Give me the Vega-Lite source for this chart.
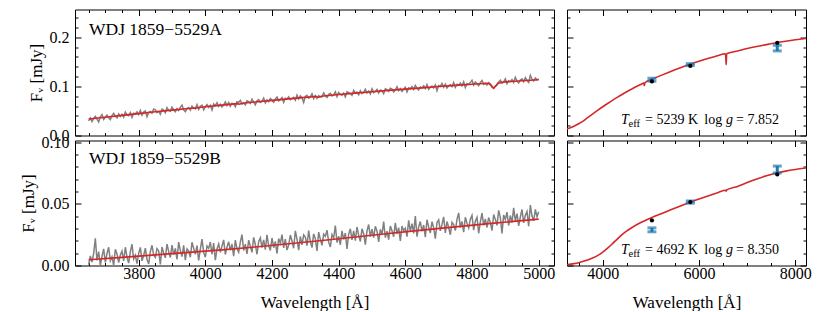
{
"$schema": "https://vega.github.io/schema/vega-lite/v6.json",
"padding": {"left": 19, "top": 8.5, "right": 0, "bottom": 0},
"config": {
  "font": "Liberation Serif",
  "view": {"stroke": null},
  "style": {"guide-label": {"font": "Liberation Serif"}, "guide-title": {"font": "Liberation Serif"}},
  "axis": {"grid": false, "domainColor": "#000", "domainWidth": 1, "tickColor": "#000", "tickWidth": 1,
           "labelColor": "#000", "labelFontSize": 16, "labelFont": "Liberation Serif",
           "titleFont": "Liberation Serif", "titleFontSize": 17, "titleFontWeight": "normal", "titleColor": "#000",
           "labelOverlap": false, "labelFlush": false}
},
"datasets": {
"specA": [
{"w":3650,"f":0.0295},{"w":3655,"f":0.0359},{"w":3660,"f":0.0283},{"w":3665,"f":0.0346},{"w":3670,"f":0.0390},{"w":3675,"f":0.0334},{"w":3680,"f":0.0278},{"w":3685,"f":0.0381},{"w":3690,"f":0.0425},{"w":3695,"f":0.0329},
{"w":3700,"f":0.0373},{"w":3705,"f":0.0416},{"w":3710,"f":0.0360},{"w":3715,"f":0.0324},{"w":3720,"f":0.0407},{"w":3725,"f":0.0451},{"w":3730,"f":0.0395},{"w":3735,"f":0.0359},{"w":3740,"f":0.0442},{"w":3745,"f":0.0386},
{"w":3750,"f":0.0430},{"w":3755,"f":0.0373},{"w":3760,"f":0.0477},{"w":3765,"f":0.0421},{"w":3770,"f":0.0404},{"w":3775,"f":0.0468},{"w":3780,"f":0.0371},{"w":3785,"f":0.0455},{"w":3790,"f":0.0439},{"w":3795,"f":0.0482},
{"w":3800,"f":0.0426},{"w":3805,"f":0.0510},{"w":3810,"f":0.0413},{"w":3815,"f":0.0477},{"w":3820,"f":0.0500},{"w":3825,"f":0.0384},{"w":3830,"f":0.0467},{"w":3835,"f":0.0491},{"w":3840,"f":0.0455},{"w":3845,"f":0.0538},
{"w":3850,"f":0.0522},{"w":3855,"f":0.0465},{"w":3860,"f":0.0489},{"w":3865,"f":0.0432},{"w":3870,"f":0.0536},{"w":3875,"f":0.0519},{"w":3880,"f":0.0463},{"w":3885,"f":0.0566},{"w":3890,"f":0.0510},{"w":3895,"f":0.0493},
{"w":3900,"f":0.0577},{"w":3905,"f":0.0520},{"w":3910,"f":0.0484},{"w":3915,"f":0.0547},{"w":3920,"f":0.0511},{"w":3925,"f":0.0574},{"w":3930,"f":0.0618},{"w":3935,"f":0.0521},{"w":3940,"f":0.0485},{"w":3945,"f":0.0548},
{"w":3950,"f":0.0571},{"w":3955,"f":0.0515},{"w":3960,"f":0.0598},{"w":3965,"f":0.0562},{"w":3970,"f":0.0545},{"w":3975,"f":0.0628},{"w":3980,"f":0.0532},{"w":3985,"f":0.0595},{"w":3990,"f":0.0619},{"w":3995,"f":0.0522},
{"w":4000,"f":0.0585},{"w":4005,"f":0.0629},{"w":4010,"f":0.0572},{"w":4015,"f":0.0615},{"w":4020,"f":0.0519},{"w":4025,"f":0.0642},{"w":4030,"f":0.0605},{"w":4035,"f":0.0669},{"w":4040,"f":0.0592},{"w":4045,"f":0.0635},
{"w":4050,"f":0.0579},{"w":4055,"f":0.0622},{"w":4060,"f":0.0685},{"w":4065,"f":0.0608},{"w":4070,"f":0.0672},{"w":4075,"f":0.0595},{"w":4080,"f":0.0658},{"w":4085,"f":0.0642},{"w":4090,"f":0.0585},{"w":4095,"f":0.0688},
{"w":4100,"f":0.0671},{"w":4105,"f":0.0715},{"w":4110,"f":0.0638},{"w":4115,"f":0.0661},{"w":4120,"f":0.0624},{"w":4125,"f":0.0707},{"w":4130,"f":0.0691},{"w":4135,"f":0.0654},{"w":4140,"f":0.0737},{"w":4145,"f":0.0680},
{"w":4150,"f":0.0623},{"w":4155,"f":0.0707},{"w":4160,"f":0.0730},{"w":4165,"f":0.0673},{"w":4170,"f":0.0696},{"w":4175,"f":0.0759},{"w":4180,"f":0.0662},{"w":4185,"f":0.0725},{"w":4190,"f":0.0689},{"w":4195,"f":0.0752},
{"w":4200,"f":0.0715},{"w":4205,"f":0.0678},{"w":4210,"f":0.0741},{"w":4215,"f":0.0784},{"w":4220,"f":0.0707},{"w":4225,"f":0.0730},{"w":4230,"f":0.0773},{"w":4235,"f":0.0676},{"w":4240,"f":0.0759},{"w":4245,"f":0.0743},
{"w":4250,"f":0.0786},{"w":4255,"f":0.0729},{"w":4260,"f":0.0752},{"w":4265,"f":0.0775},{"w":4270,"f":0.0718},{"w":4275,"f":0.0821},{"w":4280,"f":0.0744},{"w":4285,"f":0.0807},{"w":4290,"f":0.0770},{"w":4295,"f":0.0673},
{"w":4300,"f":0.0796},{"w":4305,"f":0.0819},{"w":4310,"f":0.0762},{"w":4315,"f":0.0785},{"w":4320,"f":0.0848},{"w":4325,"f":0.0751},{"w":4330,"f":0.0814},{"w":4335,"f":0.0757},{"w":4340,"f":0.0810},{"w":4345,"f":0.0783},
{"w":4350,"f":0.0786},{"w":4355,"f":0.0868},{"w":4360,"f":0.0811},{"w":4365,"f":0.0774},{"w":4370,"f":0.0837},{"w":4375,"f":0.0860},{"w":4380,"f":0.0803},{"w":4385,"f":0.0826},{"w":4390,"f":0.0889},{"w":4395,"f":0.0792},
{"w":4400,"f":0.0875},{"w":4405,"f":0.0837},{"w":4410,"f":0.0820},{"w":4415,"f":0.0863},{"w":4420,"f":0.0786},{"w":4425,"f":0.0889},{"w":4430,"f":0.0872},{"w":4435,"f":0.0854},{"w":4440,"f":0.0817},{"w":4445,"f":0.0920},
{"w":4450,"f":0.0863},{"w":4455,"f":0.0886},{"w":4460,"f":0.0829},{"w":4465,"f":0.0911},{"w":4470,"f":0.0854},{"w":4475,"f":0.0877},{"w":4480,"f":0.0940},{"w":4485,"f":0.0862},{"w":4490,"f":0.0905},{"w":4495,"f":0.0848},
{"w":4500,"f":0.0951},{"w":4505,"f":0.0873},{"w":4510,"f":0.0896},{"w":4515,"f":0.0939},{"w":4520,"f":0.0862},{"w":4525,"f":0.0924},{"w":4530,"f":0.0907},{"w":4535,"f":0.0850},{"w":4540,"f":0.0952},{"w":4545,"f":0.0935},
{"w":4550,"f":0.0898},{"w":4555,"f":0.0961},{"w":4560,"f":0.0943},{"w":4565,"f":0.0886},{"w":4570,"f":0.0928},{"w":4575,"f":0.0991},{"w":4580,"f":0.0914},{"w":4585,"f":0.0956},{"w":4590,"f":0.0899},{"w":4595,"f":0.0942},
{"w":4600,"f":0.0984},{"w":4605,"f":0.0887},{"w":4610,"f":0.0970},{"w":4615,"f":0.0952},{"w":4620,"f":0.0995},{"w":4625,"f":0.0937},{"w":4630,"f":0.1020},{"w":4635,"f":0.0963},{"w":4640,"f":0.0925},{"w":4645,"f":0.0988},
{"w":4650,"f":0.0970},{"w":4655,"f":0.1013},{"w":4660,"f":0.0955},{"w":4665,"f":0.1038},{"w":4670,"f":0.0940},{"w":4675,"f":0.0983},{"w":4680,"f":0.1006},{"w":4685,"f":0.0968},{"w":4690,"f":0.1031},{"w":4695,"f":0.0913},
{"w":4700,"f":0.1016},{"w":4705,"f":0.0998},{"w":4710,"f":0.1061},{"w":4715,"f":0.0983},{"w":4720,"f":0.1046},{"w":4725,"f":0.0968},{"w":4730,"f":0.1010},{"w":4735,"f":0.1033},{"w":4740,"f":0.0995},{"w":4745,"f":0.1078},
{"w":4750,"f":0.0980},{"w":4755,"f":0.1043},{"w":4760,"f":0.1025},{"w":4765,"f":0.1068},{"w":4770,"f":0.1010},{"w":4775,"f":0.1092},{"w":4780,"f":0.0975},{"w":4785,"f":0.1057},{"w":4790,"f":0.1040},{"w":4795,"f":0.1082},
{"w":4800,"f":0.1124},{"w":4805,"f":0.1027},{"w":4810,"f":0.1089},{"w":4815,"f":0.1052},{"w":4820,"f":0.1014},{"w":4825,"f":0.1076},{"w":4830,"f":0.1119},{"w":4835,"f":0.1041},{"w":4840,"f":0.1063},{"w":4845,"f":0.1026},
{"w":4850,"f":0.1078},{"w":4855,"f":0.1050},{"w":4860,"f":0.0985},{"w":4865,"f":0.0965},{"w":4870,"f":0.1007},{"w":4875,"f":0.1025},{"w":4880,"f":0.1092},{"w":4885,"f":0.1124},{"w":4890,"f":0.1066},{"w":4895,"f":0.1089},
{"w":4900,"f":0.1151},{"w":4905,"f":0.1053},{"w":4910,"f":0.1115},{"w":4915,"f":0.1098},{"w":4920,"f":0.1140},{"w":4925,"f":0.1082},{"w":4930,"f":0.1184},{"w":4935,"f":0.1106},{"w":4940,"f":0.1069},{"w":4945,"f":0.1131},
{"w":4950,"f":0.1153},{"w":4955,"f":0.1095},{"w":4960,"f":0.1177},{"w":4965,"f":0.1120},{"w":4970,"f":0.1082},{"w":4975,"f":0.1224},{"w":4980,"f":0.1146},{"w":4985,"f":0.1108},{"w":4990,"f":0.1170},{"w":4995,"f":0.1133},
{"w":5000,"f":0.1155}
],
"specB": [
{"w":3650,"f":0.0006},{"w":3655,"f":0.0077},{"w":3660,"f":0.0028},{"w":3665,"f":0.0099},{"w":3670,"f":0.0220},{"w":3675,"f":0.0041},{"w":3680,"f":0.0112},{"w":3685,"f":0.0003},{"w":3690,"f":0.0074},{"w":3695,"f":0.0135},
{"w":3700,"f":0.0026},{"w":3705,"f":0.0097},{"w":3710,"f":0.0148},{"w":3715,"f":0.0039},{"w":3720,"f":0.0070},{"w":3725,"f":0.0001},{"w":3730,"f":0.0132},{"w":3735,"f":0.0093},{"w":3740,"f":0.0024},{"w":3745,"f":0.0085},
{"w":3750,"f":0.0116},{"w":3755,"f":0.0037},{"w":3760,"f":0.0148},{"w":3765,"f":0.0069},{"w":3770,"f":0.0020},{"w":3775,"f":0.0111},{"w":3780,"f":0.0172},{"w":3785,"f":0.0053},{"w":3790,"f":0.0084},{"w":3795,"f":0.0015},
{"w":3800,"f":0.0096},{"w":3805,"f":0.0147},{"w":3810,"f":0.0038},{"w":3815,"f":0.0080},{"w":3820,"f":0.0140},{"w":3825,"f":0.0051},{"w":3830,"f":0.0012},{"w":3835,"f":0.0113},{"w":3840,"f":0.0164},{"w":3845,"f":0.0085},
{"w":3850,"f":0.0066},{"w":3855,"f":0.0137},{"w":3860,"f":0.0118},{"w":3865,"f":0.0009},{"w":3870,"f":0.0150},{"w":3875,"f":0.0101},{"w":3880,"f":0.0062},{"w":3885,"f":0.0173},{"w":3890,"f":0.0114},{"w":3895,"f":0.0065},
{"w":3900,"f":0.0166},{"w":3905,"f":0.0087},{"w":3910,"f":0.0138},{"w":3915,"f":0.0049},{"w":3920,"f":0.0190},{"w":3925,"f":0.0121},{"w":3930,"f":0.0072},{"w":3935,"f":0.0163},{"w":3940,"f":0.0044},{"w":3945,"f":0.0135},
{"w":3950,"f":0.0116},{"w":3955,"f":0.0067},{"w":3960,"f":0.0188},{"w":3965,"f":0.0139},{"w":3970,"f":0.0090},{"w":3975,"f":0.0161},{"w":3980,"f":0.0042},{"w":3985,"f":0.0133},{"w":3990,"f":0.0214},{"w":3995,"f":0.0106},
{"w":4000,"f":0.0067},{"w":4005,"f":0.0158},{"w":4010,"f":0.0139},{"w":4015,"f":0.0190},{"w":4020,"f":0.0091},{"w":4025,"f":0.0182},{"w":4030,"f":0.0043},{"w":4035,"f":0.0134},{"w":4040,"f":0.0175},{"w":4045,"f":0.0106},
{"w":4050,"f":0.0157},{"w":4055,"f":0.0208},{"w":4060,"f":0.0089},{"w":4065,"f":0.0150},{"w":4070,"f":0.0192},{"w":4075,"f":0.0123},{"w":4080,"f":0.0174},{"w":4085,"f":0.0075},{"w":4090,"f":0.0206},{"w":4095,"f":0.0137},
{"w":4100,"f":0.0108},{"w":4105,"f":0.0189},{"w":4110,"f":0.0250},{"w":4115,"f":0.0122},{"w":4120,"f":0.0173},{"w":4125,"f":0.0094},{"w":4130,"f":0.0205},{"w":4135,"f":0.0156},{"w":4140,"f":0.0107},{"w":4145,"f":0.0228},
{"w":4150,"f":0.0170},{"w":4155,"f":0.0091},{"w":4160,"f":0.0193},{"w":4165,"f":0.0224},{"w":4170,"f":0.0145},{"w":4175,"f":0.0207},{"w":4180,"f":0.0128},{"w":4185,"f":0.0249},{"w":4190,"f":0.0160},{"w":4195,"f":0.0122},
{"w":4200,"f":0.0223},{"w":4205,"f":0.0144},{"w":4210,"f":0.0196},{"w":4215,"f":0.0097},{"w":4220,"f":0.0218},{"w":4225,"f":0.0180},{"w":4230,"f":0.0251},{"w":4235,"f":0.0142},{"w":4240,"f":0.0214},{"w":4245,"f":0.0125},
{"w":4250,"f":0.0166},{"w":4255,"f":0.0247},{"w":4260,"f":0.0199},{"w":4265,"f":0.0140},{"w":4270,"f":0.0281},{"w":4275,"f":0.0213},{"w":4280,"f":0.0124},{"w":4285,"f":0.0235},{"w":4290,"f":0.0167},{"w":4295,"f":0.0248},
{"w":4300,"f":0.0230},{"w":4305,"f":0.0161},{"w":4310,"f":0.0282},{"w":4315,"f":0.0194},{"w":4320,"f":0.0145},{"w":4325,"f":0.0256},{"w":4330,"f":0.0218},{"w":4335,"f":0.0119},{"w":4340,"f":0.0270},{"w":4345,"f":0.0212},
{"w":4350,"f":0.0163},{"w":4355,"f":0.0254},{"w":4360,"f":0.0236},{"w":4365,"f":0.0287},{"w":4370,"f":0.0189},{"w":4375,"f":0.0150},{"w":4380,"f":0.0251},{"w":4385,"f":0.0223},{"w":4390,"f":0.0324},{"w":4395,"f":0.0186},
{"w":4400,"f":0.0237},{"w":4405,"f":0.0168},{"w":4410,"f":0.0280},{"w":4415,"f":0.0211},{"w":4420,"f":0.0263},{"w":4425,"f":0.0134},{"w":4430,"f":0.0255},{"w":4435,"f":0.0297},{"w":4440,"f":0.0208},{"w":4445,"f":0.0280},
{"w":4450,"f":0.0201},{"w":4455,"f":0.0312},{"w":4460,"f":0.0244},{"w":4465,"f":0.0195},{"w":4470,"f":0.0297},{"w":4475,"f":0.0258},{"w":4480,"f":0.0169},{"w":4485,"f":0.0281},{"w":4490,"f":0.0332},{"w":4495,"f":0.0234},
{"w":4500,"f":0.0295},{"w":4505,"f":0.0226},{"w":4510,"f":0.0318},{"w":4515,"f":0.0279},{"w":4520,"f":0.0191},{"w":4525,"f":0.0292},{"w":4530,"f":0.0253},{"w":4535,"f":0.0355},{"w":4540,"f":0.0226},{"w":4545,"f":0.0278},
{"w":4550,"f":0.0209},{"w":4555,"f":0.0320},{"w":4560,"f":0.0282},{"w":4565,"f":0.0233},{"w":4570,"f":0.0345},{"w":4575,"f":0.0256},{"w":4580,"f":0.0307},{"w":4585,"f":0.0199},{"w":4590,"f":0.0320},{"w":4595,"f":0.0282},
{"w":4600,"f":0.0303},{"w":4605,"f":0.0234},{"w":4610,"f":0.0366},{"w":4615,"f":0.0277},{"w":4620,"f":0.0339},{"w":4625,"f":0.0260},{"w":4630,"f":0.0401},{"w":4635,"f":0.0233},{"w":4640,"f":0.0314},{"w":4645,"f":0.0356},
{"w":4650,"f":0.0277},{"w":4655,"f":0.0328},{"w":4660,"f":0.0230},{"w":4665,"f":0.0371},{"w":4670,"f":0.0312},{"w":4675,"f":0.0264},{"w":4680,"f":0.0355},{"w":4685,"f":0.0306},{"w":4690,"f":0.0217},{"w":4695,"f":0.0349},
{"w":4700,"f":0.0370},{"w":4705,"f":0.0281},{"w":4710,"f":0.0333},{"w":4715,"f":0.0394},{"w":4720,"f":0.0265},{"w":4725,"f":0.0356},{"w":4730,"f":0.0308},{"w":4735,"f":0.0249},{"w":4740,"f":0.0350},{"w":4745,"f":0.0332},
{"w":4750,"f":0.0283},{"w":4755,"f":0.0374},{"w":4760,"f":0.0426},{"w":4765,"f":0.0307},{"w":4770,"f":0.0358},{"w":4775,"f":0.0270},{"w":4780,"f":0.0391},{"w":4785,"f":0.0342},{"w":4790,"f":0.0304},{"w":4795,"f":0.0375},
{"w":4800,"f":0.0406},{"w":4805,"f":0.0287},{"w":4810,"f":0.0359},{"w":4815,"f":0.0390},{"w":4820,"f":0.0261},{"w":4825,"f":0.0353},{"w":4830,"f":0.0424},{"w":4835,"f":0.0325},{"w":4840,"f":0.0377},{"w":4845,"f":0.0308},
{"w":4850,"f":0.0389},{"w":4855,"f":0.0350},{"w":4860,"f":0.0282},{"w":4865,"f":0.0413},{"w":4870,"f":0.0374},{"w":4875,"f":0.0325},{"w":4880,"f":0.0447},{"w":4885,"f":0.0388},{"w":4890,"f":0.0259},{"w":4895,"f":0.0410},
{"w":4900,"f":0.0372},{"w":4905,"f":0.0433},{"w":4910,"f":0.0324},{"w":4915,"f":0.0405},{"w":4920,"f":0.0347},{"w":4925,"f":0.0468},{"w":4930,"f":0.0359},{"w":4935,"f":0.0420},{"w":4940,"f":0.0322},{"w":4945,"f":0.0393},
{"w":4950,"f":0.0454},{"w":4955,"f":0.0345},{"w":4960,"f":0.0406},{"w":4965,"f":0.0438},{"w":4970,"f":0.0319},{"w":4975,"f":0.0490},{"w":4980,"f":0.0401},{"w":4985,"f":0.0362},{"w":4990,"f":0.0454},{"w":4995,"f":0.0395},
{"w":5000,"f":0.0436}
],
"modA": [
{"w":3650,"f":0.0335},{"w":3700,"f":0.0373},{"w":3750,"f":0.0410},{"w":3800,"f":0.0446},{"w":3850,"f":0.0482},{"w":3900,"f":0.0517},{"w":3950,"f":0.0551},{"w":3965,"f":0.0561},{"w":3970,"f":0.0553},{"w":3975,"f":0.0565},
{"w":4000,"f":0.0585},{"w":4050,"f":0.0619},{"w":4095,"f":0.0648},{"w":4102,"f":0.0637},{"w":4110,"f":0.0657},{"w":4150,"f":0.0683},{"w":4200,"f":0.0715},{"w":4250,"f":0.0746},{"w":4300,"f":0.0776},{"w":4332,"f":0.0794},
{"w":4340,"f":0.0780},{"w":4348,"f":0.0799},{"w":4400,"f":0.0835},{"w":4450,"f":0.0863},{"w":4500,"f":0.0891},{"w":4550,"f":0.0918},{"w":4600,"f":0.0944},{"w":4650,"f":0.0970},{"w":4700,"f":0.0996},{"w":4750,"f":0.1020},
{"w":4800,"f":0.1044},{"w":4845,"f":0.1065},{"w":4852,"f":0.1052},{"w":4858,"f":0.1015},{"w":4865,"f":0.0960},{"w":4871,"f":0.1010},{"w":4877,"f":0.1058},{"w":4890,"f":0.1084},{"w":4900,"f":0.1091},{"w":4950,"f":0.1113},
{"w":5000,"f":0.1135}
],
"modB": [
{"w":3650,"f":0.0046},{"w":3750,"f":0.0066},{"w":3850,"f":0.0086},{"w":3950,"f":0.0106},{"w":4050,"f":0.0127},{"w":4150,"f":0.0150},{"w":4250,"f":0.0176},{"w":4350,"f":0.0203},
{"w":4450,"f":0.0231},{"w":4550,"f":0.0259},{"w":4650,"f":0.0287},{"w":4750,"f":0.0313},{"w":4850,"f":0.0339},{"w":4950,"f":0.0364},{"w":5000,"f":0.0376}
],
"sedA": [
{"w":3250,"f":0.0133},{"w":3300,"f":0.0150},{"w":3400,"f":0.0190},{"w":3500,"f":0.0240},{"w":3600,"f":0.0299},{"w":3700,"f":0.0373},{"w":3800,"f":0.0446},{"w":3900,"f":0.0517},
{"w":4000,"f":0.0585},{"w":4100,"f":0.0651},{"w":4200,"f":0.0715},{"w":4300,"f":0.0776},{"w":4400,"f":0.0835},{"w":4500,"f":0.0891},{"w":4600,"f":0.0944},{"w":4700,"f":0.0996},
{"w":4800,"f":0.1044},{"w":4850,"f":0.1066},{"w":4857,"f":0.1045},{"w":4863,"f":0.1018},{"w":4869,"f":0.1048},{"w":4880,"f":0.1075},{"w":4900,"f":0.1091},{"w":5000,"f":0.1135},
{"w":5200,"f":0.1219},{"w":5400,"f":0.1299},{"w":5600,"f":0.1375},{"w":5800,"f":0.1447},{"w":6000,"f":0.1513},{"w":6200,"f":0.1573},{"w":6400,"f":0.1628},{"w":6540,"f":0.1664},
{"w":6553,"f":0.1640},{"w":6563,"f":0.1440},{"w":6573,"f":0.1648},{"w":6586,"f":0.1672},{"w":6600,"f":0.1676},{"w":6800,"f":0.1722},{"w":7000,"f":0.1770},{"w":7200,"f":0.1812},
{"w":7400,"f":0.1850},{"w":7600,"f":0.1888},{"w":7800,"f":0.1920},{"w":8000,"f":0.1948},{"w":8230,"f":0.1975}
],
"sedB": [
{"w":3250,"f":0.0006},{"w":3300,"f":0.0009},{"w":3400,"f":0.0015},{"w":3500,"f":0.0023},{"w":3600,"f":0.0034},{"w":3700,"f":0.0047},{"w":3800,"f":0.0062},{"w":3900,"f":0.0082},
{"w":4000,"f":0.0108},{"w":4100,"f":0.0140},{"w":4200,"f":0.0176},{"w":4300,"f":0.0214},{"w":4400,"f":0.0250},{"w":4500,"f":0.0280},{"w":4600,"f":0.0306},{"w":4800,"f":0.0350},
{"w":5000,"f":0.0386},{"w":5200,"f":0.0418},{"w":5400,"f":0.0449},{"w":5600,"f":0.0480},{"w":5800,"f":0.0511},{"w":6000,"f":0.0539},{"w":6200,"f":0.0566},{"w":6400,"f":0.0592},
{"w":6550,"f":0.0610},{"w":6563,"f":0.0603},{"w":6576,"f":0.0613},{"w":6800,"f":0.0641},{"w":7000,"f":0.0672},{"w":7200,"f":0.0701},{"w":7400,"f":0.0727},{"w":7600,"f":0.0748},
{"w":7800,"f":0.0765},{"w":8000,"f":0.0778},{"w":8230,"f":0.0790}
],
"photA": [
{"w":5021,"obs":0.1136,"lo":0.1106,"hi":0.1166,"syn":0.1100},
{"w":5819,"obs":0.1443,"lo":0.1423,"hi":0.1463,"syn":0.1415},
{"w":7625,"obs":0.1780,"lo":0.1722,"hi":0.1837,"syn":0.1884}
],
"photB": [
{"w":5021,"obs":0.0289,"lo":0.0273,"hi":0.0305,"syn":0.0365},
{"w":5819,"obs":0.0514,"lo":0.0505,"hi":0.0523,"syn":0.0514},
{"w":7625,"obs":0.0778,"lo":0.0750,"hi":0.0806,"syn":0.0738}
]
},
"columns": 2,
"spacing": {"row": 5, "column": 13},
"bounds": "flush",
"align": "each",
"concat": [
{
 "width": 479, "height": 126,
 "resolve": {"axis": {"x": "independent", "y": "independent"}},
 "layer": [
  {"data": {"name": "specA"}, "mark": {"type": "line", "color": "#808080", "strokeWidth": 1.5, "clip": true},
   "encoding": {
    "x": {"field": "w", "type": "quantitative", "scale": {"domain": [3609, 5046], "nice": false, "zero": false},
          "axis": {"orient": "bottom", "values": [3650,3700,3750,3800,3850,3900,3950,4000,4050,4100,4150,4200,4250,4300,4350,4400,4450,4500,4550,4600,4650,4700,4750,4800,4850,4900,4950,5000],
                   "labels": false, "title": null, "tickSize": {"condition": {"test": "datum.value % 200 === 0", "value": -6}, "value": -3}}},
    "y": {"field": "f", "type": "quantitative", "scale": {"domain": [0, 0.2565], "nice": false, "zero": false},
          "axis": {"orient": "left", "values": [0,0.02,0.04,0.06,0.08,0.1,0.12,0.14,0.16,0.18,0.2,0.22,0.24],
                   "tickSize": {"condition": {"test": "abs(datum.value*10-round(datum.value*10))<1e-6", "value": -6}, "value": -3},
                   "labelExpr": "abs(datum.value*10-round(datum.value*10))<1e-6 ? format(datum.value,'.1f') : ''",
                   "labelFont": "Liberation Serif", "titleFont": "Liberation Serif",
                   "labelPadding": 12, "title": "Fᵥ [mJy]", "titlePadding": 4}}}},
  {"data": {"name": "modA"}, "mark": {"type": "line", "color": "#d62728", "strokeWidth": 1.6, "clip": true},
   "encoding": {
    "x": {"field": "w", "type": "quantitative", "scale": {"domain": [3609, 5046], "nice": false, "zero": false},
          "axis": {"orient": "top", "values": [3650,3700,3750,3800,3850,3900,3950,4000,4050,4100,4150,4200,4250,4300,4350,4400,4450,4500,4550,4600,4650,4700,4750,4800,4850,4900,4950,5000],
                   "labels": false, "title": null, "tickSize": {"condition": {"test": "datum.value % 200 === 0", "value": -6}, "value": -3}}},
    "y": {"field": "f", "type": "quantitative", "scale": {"domain": [0, 0.2565], "nice": false, "zero": false},
          "axis": {"orient": "right", "values": [0,0.02,0.04,0.06,0.08,0.1,0.12,0.14,0.16,0.18,0.2,0.22,0.24], "labels": false, "title": null,
                   "tickSize": {"condition": {"test": "abs(datum.value*10-round(datum.value*10))<1e-6", "value": -6}, "value": -3}}}}},
  {"data": {"values": [{"t": "WDJ 1859−5529A"}]},
   "mark": {"type": "text", "align": "left", "baseline": "alphabetic", "font": "Liberation Serif", "fontSize": 17.5, "color": "#000"},
   "encoding": {"x": {"datum": 3651, "type": "quantitative", "axis": null}, "y": {"datum": 0.2055, "type": "quantitative", "axis": null}, "text": {"field": "t"}}}
 ]
},
{
 "width": 239, "height": 126,
 "resolve": {"axis": {"x": "independent", "y": "independent"}},
 "layer": [
  {"data": {"name": "sedA"}, "mark": {"type": "line", "color": "#d62728", "strokeWidth": 1.6, "clip": true, "interpolate": "monotone"},
   "encoding": {
    "x": {"field": "w", "type": "quantitative", "scale": {"domain": [3257, 8222], "nice": false, "zero": false},
          "axis": {"orient": "bottom", "values": [3500,4000,4500,5000,5500,6000,6500,7000,7500,8000], "labels": false, "title": null,
                   "tickSize": {"condition": {"test": "datum.value % 2000 === 0", "value": -6}, "value": -3}}},
    "y": {"field": "f", "type": "quantitative", "scale": {"domain": [0, 0.2565], "nice": false, "zero": false},
          "axis": {"orient": "left", "values": [0,0.02,0.04,0.06,0.08,0.1,0.12,0.14,0.16,0.18,0.2,0.22,0.24], "labels": false, "title": null,
                   "tickSize": {"condition": {"test": "abs(datum.value*10-round(datum.value*10))<1e-6", "value": -6}, "value": -3}}}}},
  {"data": {"name": "photA"}, "mark": {"type": "errorbar", "ticks": true, "size": 9, "thickness": 3, "color": "#1f77b4"},
   "encoding": {"x": {"field": "w", "type": "quantitative", "axis": null}, "y": {"field": "lo", "type": "quantitative", "axis": null}, "y2": {"field": "hi"}}},
  {"data": {"name": "photA"}, "mark": {"type": "point", "filled": true, "color": "#000", "size": 18, "opacity": 1},
   "encoding": {
    "x": {"field": "w", "type": "quantitative",
          "axis": {"orient": "top", "values": [3500,4000,4500,5000,5500,6000,6500,7000,7500,8000], "labels": false, "title": null,
                   "tickSize": {"condition": {"test": "datum.value % 2000 === 0", "value": -6}, "value": -3}}},
    "y": {"field": "syn", "type": "quantitative",
          "axis": {"orient": "right", "values": [0,0.02,0.04,0.06,0.08,0.1,0.12,0.14,0.16,0.18,0.2,0.22,0.24], "labels": false, "title": null,
                   "tickSize": {"condition": {"test": "abs(datum.value*10-round(datum.value*10))<1e-6", "value": -6}, "value": -3}}}}},
  {"data": {"values": [{"t": "T"}]}, "mark": {"type": "text", "align": "left", "baseline": "alphabetic", "font": "Liberation Serif", "fontSize": 14, "fontStyle": "italic", "color": "#000"},
   "encoding": {"x": {"datum": 4379, "type": "quantitative", "axis": null}, "y": {"datum": 0.0239, "type": "quantitative", "axis": null}, "text": {"field": "t"}}},
  {"data": {"values": [{"t": "eff"}]}, "mark": {"type": "text", "align": "left", "baseline": "alphabetic", "font": "Liberation Serif", "fontSize": 10.5, "color": "#000"},
   "encoding": {"x": {"datum": 4535, "type": "quantitative", "axis": null}, "y": {"datum": 0.0178, "type": "quantitative", "axis": null}, "text": {"field": "t"}}},
  {"data": {"values": [{"t": "= 5239 K \u2009log"}]}, "mark": {"type": "text", "align": "left", "baseline": "alphabetic", "font": "Liberation Serif", "fontSize": 14, "color": "#000"},
   "encoding": {"x": {"datum": 4877, "type": "quantitative", "axis": null}, "y": {"datum": 0.0239, "type": "quantitative", "axis": null}, "text": {"field": "t"}}},
  {"data": {"values": [{"t": "g"}]}, "mark": {"type": "text", "align": "left", "baseline": "alphabetic", "font": "Liberation Serif", "fontSize": 14, "fontStyle": "italic", "color": "#000"},
   "encoding": {"x": {"datum": 6560, "type": "quantitative", "axis": null}, "y": {"datum": 0.0239, "type": "quantitative", "axis": null}, "text": {"field": "t"}}},
  {"data": {"values": [{"t": "= 7.852"}]}, "mark": {"type": "text", "align": "left", "baseline": "alphabetic", "font": "Liberation Serif", "fontSize": 14, "color": "#000"},
   "encoding": {"x": {"datum": 6770, "type": "quantitative", "axis": null}, "y": {"datum": 0.0239, "type": "quantitative", "axis": null}, "text": {"field": "t"}}}
 ]
},
{
 "width": 479, "height": 125,
 "resolve": {"axis": {"x": "independent", "y": "independent"}},
 "layer": [
  {"data": {"name": "specB"}, "mark": {"type": "line", "color": "#808080", "strokeWidth": 1.5, "clip": true},
   "encoding": {
    "x": {"field": "w", "type": "quantitative", "scale": {"domain": [3609, 5046], "nice": false, "zero": false},
          "axis": {"orient": "bottom", "values": [3650,3700,3750,3800,3850,3900,3950,4000,4050,4100,4150,4200,4250,4300,4350,4400,4450,4500,4550,4600,4650,4700,4750,4800,4850,4900,4950,5000],
                   "tickSize": {"condition": {"test": "datum.value % 200 === 0", "value": -6}, "value": -3},
                   "labelExpr": "datum.value % 200 === 0 ? format(datum.value,'d') : ''",
                   "labelFont": "Liberation Serif", "titleFont": "Liberation Serif",
                   "labelPadding": 6, "title": "Wavelength [Å]", "titlePadding": 10}},
    "y": {"field": "f", "type": "quantitative", "scale": {"domain": [0, 0.1013], "nice": false, "zero": false},
          "axis": {"orient": "left", "values": [0,0.01,0.02,0.03,0.04,0.05,0.06,0.07,0.08,0.09,0.1],
                   "tickSize": {"condition": {"test": "abs(datum.value*20-round(datum.value*20))<1e-6", "value": -6}, "value": -3},
                   "labelExpr": "abs(datum.value*20-round(datum.value*20))<1e-6 ? format(datum.value,'.2f') : ''",
                   "labelFont": "Liberation Serif", "titleFont": "Liberation Serif",
                   "labelPadding": 12, "title": "Fᵥ [mJy]", "titlePadding": 4}}}},
  {"data": {"name": "modB"}, "mark": {"type": "line", "color": "#d62728", "strokeWidth": 1.6, "clip": true},
   "encoding": {
    "x": {"field": "w", "type": "quantitative", "scale": {"domain": [3609, 5046], "nice": false, "zero": false},
          "axis": {"orient": "top", "values": [3650,3700,3750,3800,3850,3900,3950,4000,4050,4100,4150,4200,4250,4300,4350,4400,4450,4500,4550,4600,4650,4700,4750,4800,4850,4900,4950,5000],
                   "labels": false, "title": null, "tickSize": {"condition": {"test": "datum.value % 200 === 0", "value": -6}, "value": -3}}},
    "y": {"field": "f", "type": "quantitative", "scale": {"domain": [0, 0.1013], "nice": false, "zero": false},
          "axis": {"orient": "right", "values": [0,0.01,0.02,0.03,0.04,0.05,0.06,0.07,0.08,0.09,0.1], "labels": false, "title": null,
                   "tickSize": {"condition": {"test": "abs(datum.value*20-round(datum.value*20))<1e-6", "value": -6}, "value": -3}}}}},
  {"data": {"values": [{"t": "WDJ 1859−5529B"}]},
   "mark": {"type": "text", "align": "left", "baseline": "alphabetic", "font": "Liberation Serif", "fontSize": 17.5, "color": "#000"},
   "encoding": {"x": {"datum": 3651, "type": "quantitative", "axis": null}, "y": {"datum": 0.0825, "type": "quantitative", "axis": null}, "text": {"field": "t"}}}
 ]
},
{
 "width": 239, "height": 125,
 "resolve": {"axis": {"x": "independent", "y": "independent"}},
 "layer": [
  {"data": {"name": "sedB"}, "mark": {"type": "line", "color": "#d62728", "strokeWidth": 1.6, "clip": true, "interpolate": "monotone"},
   "encoding": {
    "x": {"field": "w", "type": "quantitative", "scale": {"domain": [3257, 8222], "nice": false, "zero": false},
          "axis": {"orient": "bottom", "values": [3500,4000,4500,5000,5500,6000,6500,7000,7500,8000],
                   "tickSize": {"condition": {"test": "datum.value % 2000 === 0", "value": -6}, "value": -3},
                   "labelExpr": "datum.value % 2000 === 0 ? format(datum.value,'d') : ''",
                   "labelFont": "Liberation Serif", "titleFont": "Liberation Serif",
                   "labelPadding": 6, "title": "Wavelength [Å]", "titlePadding": 10}},
    "y": {"field": "f", "type": "quantitative", "scale": {"domain": [0, 0.1013], "nice": false, "zero": false},
          "axis": {"orient": "left", "values": [0,0.01,0.02,0.03,0.04,0.05,0.06,0.07,0.08,0.09,0.1], "labels": false, "title": null,
                   "tickSize": {"condition": {"test": "abs(datum.value*20-round(datum.value*20))<1e-6", "value": -6}, "value": -3}}}}},
  {"data": {"name": "photB"}, "mark": {"type": "errorbar", "ticks": true, "size": 9, "thickness": 3, "color": "#1f77b4"},
   "encoding": {"x": {"field": "w", "type": "quantitative", "axis": null}, "y": {"field": "lo", "type": "quantitative", "axis": null}, "y2": {"field": "hi"}}},
  {"data": {"name": "photB"}, "mark": {"type": "point", "filled": true, "color": "#000", "size": 18, "opacity": 1},
   "encoding": {
    "x": {"field": "w", "type": "quantitative",
          "axis": {"orient": "top", "values": [3500,4000,4500,5000,5500,6000,6500,7000,7500,8000], "labels": false, "title": null,
                   "tickSize": {"condition": {"test": "datum.value % 2000 === 0", "value": -6}, "value": -3}}},
    "y": {"field": "syn", "type": "quantitative",
          "axis": {"orient": "right", "values": [0,0.01,0.02,0.03,0.04,0.05,0.06,0.07,0.08,0.09,0.1], "labels": false, "title": null,
                   "tickSize": {"condition": {"test": "abs(datum.value*20-round(datum.value*20))<1e-6", "value": -6}, "value": -3}}}}},
  {"data": {"values": [{"t": "T"}]}, "mark": {"type": "text", "align": "left", "baseline": "alphabetic", "font": "Liberation Serif", "fontSize": 14, "fontStyle": "italic", "color": "#000"},
   "encoding": {"x": {"datum": 4379, "type": "quantitative", "axis": null}, "y": {"datum": 0.0095, "type": "quantitative", "axis": null}, "text": {"field": "t"}}},
  {"data": {"values": [{"t": "eff"}]}, "mark": {"type": "text", "align": "left", "baseline": "alphabetic", "font": "Liberation Serif", "fontSize": 10.5, "color": "#000"},
   "encoding": {"x": {"datum": 4535, "type": "quantitative", "axis": null}, "y": {"datum": 0.0071, "type": "quantitative", "axis": null}, "text": {"field": "t"}}},
  {"data": {"values": [{"t": "= 4692 K \u2009log"}]}, "mark": {"type": "text", "align": "left", "baseline": "alphabetic", "font": "Liberation Serif", "fontSize": 14, "color": "#000"},
   "encoding": {"x": {"datum": 4877, "type": "quantitative", "axis": null}, "y": {"datum": 0.0095, "type": "quantitative", "axis": null}, "text": {"field": "t"}}},
  {"data": {"values": [{"t": "g"}]}, "mark": {"type": "text", "align": "left", "baseline": "alphabetic", "font": "Liberation Serif", "fontSize": 14, "fontStyle": "italic", "color": "#000"},
   "encoding": {"x": {"datum": 6560, "type": "quantitative", "axis": null}, "y": {"datum": 0.0095, "type": "quantitative", "axis": null}, "text": {"field": "t"}}},
  {"data": {"values": [{"t": "= 8.350"}]}, "mark": {"type": "text", "align": "left", "baseline": "alphabetic", "font": "Liberation Serif", "fontSize": 14, "color": "#000"},
   "encoding": {"x": {"datum": 6770, "type": "quantitative", "axis": null}, "y": {"datum": 0.0095, "type": "quantitative", "axis": null}, "text": {"field": "t"}}}
 ]
}
]
}
